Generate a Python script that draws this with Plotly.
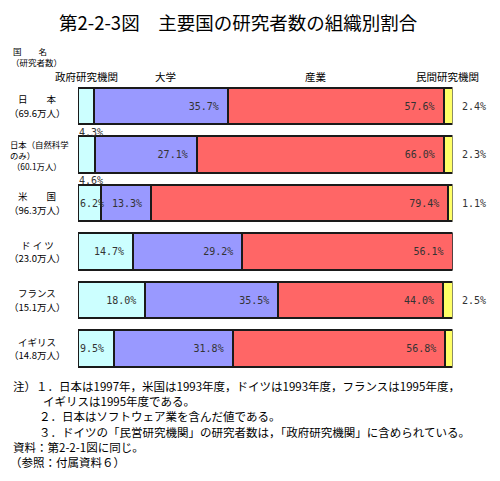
import plotly.graph_objects as go

# ---- data ----
countries = ["日本", "日本(自然科学のみ)", "米国", "ドイツ", "フランス", "イギリス"]
country_labels = [
    ["日　　本", "（69.6万人）"],
    ["日本（自然科学", "のみ）", " （60.1万人）"],
    ["米　　国", "（96.3万人）"],
    ["ド イ ツ", "（23.0万人）"],
    ["フランス", "（15.1万人）"],
    ["イギリス", "（14.8万人）"],
]
series_names = ["政府研究機関", "大学", "産業", "民間研究機関"]
gov = [4.3, 4.6, 6.2, 14.7, 18.0, 9.5]
univ = [35.7, 27.1, 13.3, 29.2, 35.5, 31.8]
industry = [57.6, 66.0, 79.4, 56.1, 44.0, 56.8]
private = [2.4, 2.3, 1.1, 0.0, 2.5, 2.0]

title = "第2-2-3図　主要国の研究者数の組織別割合"
notes = [
    "注）１．日本は1997年，米国は1993年度，ドイツは1993年度，フランスは1995年度，",
    "イギリスは1995年度である。",
    "２．日本はソフトウェア業を含んだ値である。",
    "３．ドイツの「民営研究機関」の研究者数は，「政府研究機関」に含められている。",
    "資料：第2-2-1図に同じ。",
    "（参照：付属資料６）",
]

colors = ["#ccffff", "#9999ff", "#ff6666", "#ffff66"]
W, H = 500, 481
OFF = 8  # page body margin
JP = "Noto Sans CJK JP"
MONO = "DejaVu Sans Mono"


def px(x):
    return (x - OFF) / W


def py(y):
    return 1 - (y - OFF) / H


fig = go.Figure()
all_series = [gov, univ, industry, private]
for i, (name, vals) in enumerate(zip(series_names, all_series)):
    if i == 0:
        texts = ["" if v < 10 else f"{v:.1f}%\u00a0" for v in vals]
    elif i in (1, 2):
        texts = [f"{v:.1f}%\u00a0" for v in vals]
    else:
        texts = ["" for v in vals]
    fig.add_trace(go.Bar(
        y=countries, x=vals, orientation="h", name=name,
        marker=dict(color=colors[i], line=dict(color="#1a1a1a", width=2)),
        text=texts, textposition="inside", insidetextanchor="end",
        textfont=dict(family=MONO, size=10, color="#333333"),
        constraintext="none", textangle=0,
        hoverinfo="skip",
    ))

fig.update_layout(
    barmode="stack", bargap=0.24,
    width=W, height=H,
    margin=dict(l=0, r=0, t=0, b=0),
    paper_bgcolor="white", plot_bgcolor="white",
    showlegend=False,
    xaxis=dict(domain=[px(78), px(452.5)], range=[0, 100], visible=False, fixedrange=True),
    yaxis=dict(domain=[py(372.75), py(81.75)], categoryorder="array", categoryarray=countries,
               range=[len(countries) - 0.5, -0.5], visible=False, fixedrange=True),
)

ann = []


def add_text(text, x, y, size, family=JP, xanchor="center", align="center"):
    ann.append(dict(text=text, x=px(x), y=py(y), xref="paper", yref="paper",
                    xanchor=xanchor, yanchor="middle", align=align, showarrow=False,
                    borderpad=0,
                    font=dict(family=family, size=size, color="black")))


# title
add_text(title, 238, 22, 18.5)
# header
add_text("国　　名", 30, 51, 8.5)
add_text("（研究者数）", 36, 62, 8.5)
# series headers
for name, cx in zip(series_names, [86, 165, 316, 447]):
    add_text(name, cx, 76, 10.5)
# country labels (one annotation per line)
for c, lines in zip(countries, country_labels):
    n = len(lines)
    if n == 3:
        step, size, xa, xpos = 11, 8.4, "left", 9
    else:
        step, size, xa, xpos = 13.5, 9.5, "center", 37
    for k, line in enumerate(lines):
        off = (k - (n - 1) / 2) * step
        ann.append(dict(text=line, x=px(xpos), y=c, xref="paper", yref="y", xanchor=xa,
                        yanchor="middle", yshift=-off, showarrow=False, borderpad=0,
                        font=dict(family=JP, size=size, color="black")))
# small gov labels
for c, v in zip(countries, gov):
    if v < 6:
        ann.append(dict(text=f"{v:.1f}%", x=0, y=c, xref="x", yref="y", xanchor="left",
                        yanchor="middle", yshift=-26, showarrow=False, borderpad=0,
                        font=dict(family=MONO, size=10, color="#333333")))
    elif v < 10:
        ann.append(dict(text=f"{v:.1f}%", x=0, y=c, xref="x", yref="y", xanchor="left",
                        yanchor="middle", xshift=1, showarrow=False, borderpad=0,
                        font=dict(family=MONO, size=10, color="#333333")))
# private labels outside right
for c, g, u, ind, p in zip(countries, gov, univ, industry, private):
    if p > 0:
        ann.append(dict(text=f"{p:.1f}%", x=g + u + ind + p, y=c, xref="x", yref="y",
                        xanchor="left", yanchor="middle", xshift=8, showarrow=False,
                        borderpad=0,
                        font=dict(family=MONO, size=10, color="#333333")))
# notes
note_x = [12, 42, 38, 38, 12, 9]
note_y = [386, 401.2, 416.4, 431.6, 446.8, 462]
for t, nx, ny in zip(notes, note_x, note_y):
    add_text(t, nx, ny, 11.5, xanchor="left", align="left")

fig.update_layout(annotations=ann)
fig.write_html("out.html")
